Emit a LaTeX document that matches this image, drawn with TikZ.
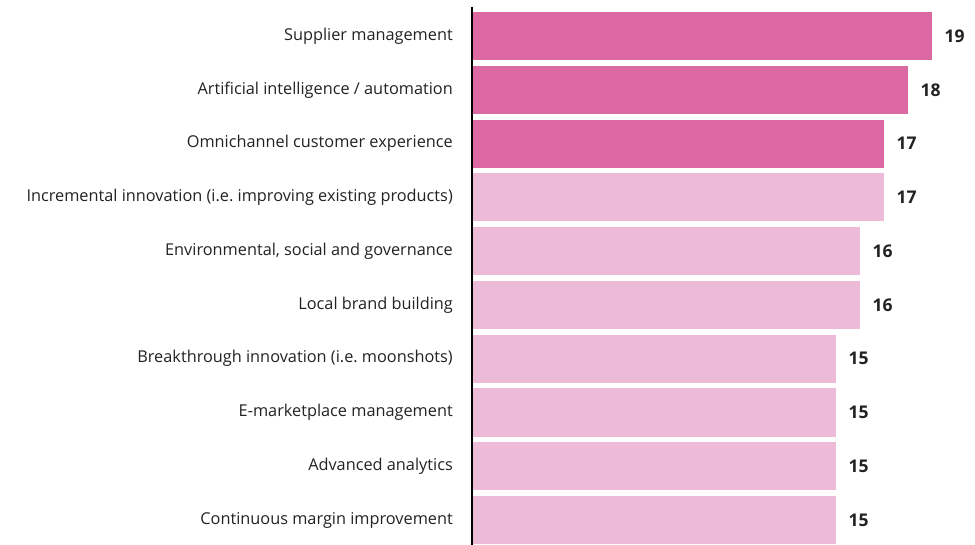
\documentclass[tikz,border=0pt]{standalone}
\usepackage{fontspec}
\setmainfont{Open Sans}
\usetikzlibrary{positioning}
\definecolor{hot}{HTML}{DD69A3}
\definecolor{soft}{HTML}{EDBAD7}
\definecolor{ink}{HTML}{222222}
\frenchspacing
\begin{document}
\begin{tikzpicture}[x=1pt, y=-1pt,
   every node/.style={inner sep=0pt, text=ink},
   bar/.style={rectangle, anchor=west, minimum height=48pt, fill=soft},
   hotbar/.style={bar, fill=hot},
   cat/.style={left=19pt of #1.west, font=\fontsize{16.3}{19}\selectfont},
   num/.style={right=12pt of #1.east, font=\fontsize{17.5}{19}\selectfont\bfseries}]

\useasboundingbox (0,0) rectangle (975,545);

\node[hotbar, minimum width=460pt] (supplier) at (472,36) {};
\node[hotbar, minimum width=436pt] (ai) at (472,89.8) {};
\node[hotbar, minimum width=412pt] (omni) at (472,143.6) {};
\node[bar, minimum width=412pt] (incr) at (472,197.3) {};
\node[bar, minimum width=388pt] (esg) at (472,251.1) {};
\node[bar, minimum width=388pt] (local) at (472,304.9) {};
\node[bar, minimum width=364pt] (moon) at (472,358.7) {};
\node[bar, minimum width=364pt] (emkt) at (472,412.5) {};
\node[bar, minimum width=364pt] (analytics) at (472,466.2) {};
\node[bar, minimum width=364pt] (margin) at (472,520) {};

\node[cat=supplier] (supplier-t) {Supplier management};
\node[cat=ai] (ai-t) {Artificial intelligence / automation};
\node[cat=omni] (omni-t) {Omnichannel customer experience};
\node[cat=incr] (incr-t) {Incremental innovation (i.e. improving existing products)};
\node[cat=esg] (esg-t) {Environmental, social and governance};
\node[cat=local] (local-t) {Local brand building};
\node[cat=moon] (moon-t) {Breakthrough innovation (i.e. moonshots)};
\node[cat=emkt] (emkt-t) {E-marketplace management};
\node[cat=analytics] (analytics-t) {Advanced analytics};
\node[cat=margin] (margin-t) {Continuous margin improvement};

\node[num=supplier] (supplier-n) {19};
\node[num=ai] (ai-n) {18};
\node[num=omni] (omni-n) {17};
\node[num=incr] (incr-n) {17};
\node[num=esg] (esg-n) {16};
\node[num=local] (local-n) {16};
\node[num=moon] (moon-n) {15};
\node[num=emkt] (emkt-n) {15};
\node[num=analytics] (analytics-n) {15};
\node[num=margin] (margin-n) {15};

% axis
\coordinate (top) at (472,7);
\coordinate (bottom) at (472,545);
\draw[line width=1.4pt] (top) -- (bottom);

\end{tikzpicture}
\end{document}
